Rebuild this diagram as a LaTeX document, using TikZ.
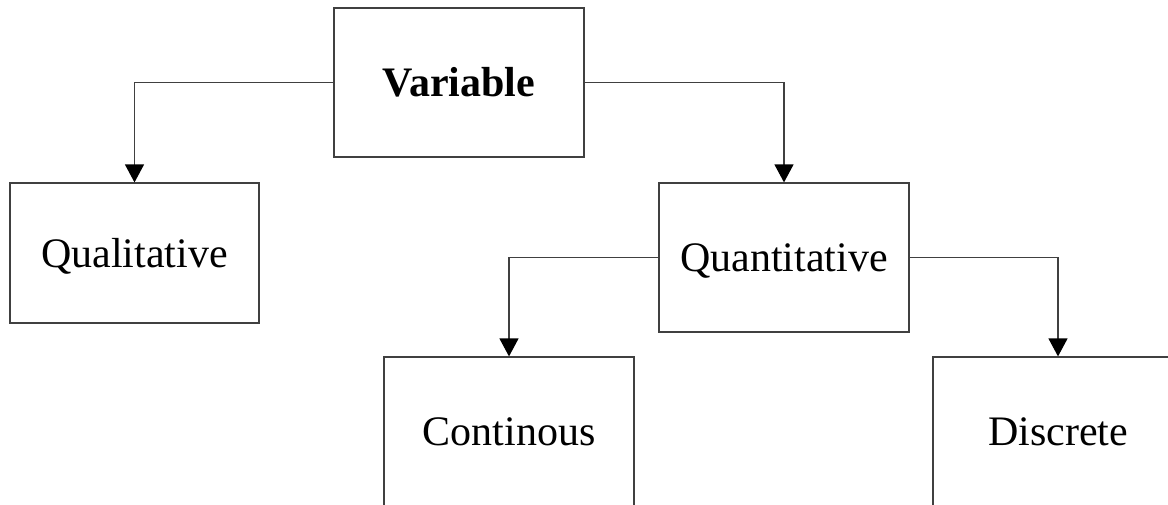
\documentclass[tikz,border=0pt]{standalone}
\usepackage{fontspec}
\setmainfont{Liberation Serif}
\usetikzlibrary{arrows.meta}
\begin{document}
\begin{tikzpicture}[x=1pt,y=-1pt,
  box/.style={draw=black!75,line width=1.2pt,fill=white,inner sep=0pt,
    font=\fontsize{42}{48}\selectfont,text height=28.5pt,text depth=0pt},
  lowbox/.style={box,minimum width=250pt,minimum height=154pt,text depth=6pt},
  conn/.style={draw=black!75,line width=1.2pt,-{Triangle[width=19pt,length=18pt,fill=black,color=black]}}]
\useasboundingbox (0,0) rectangle (1168,504);
\node[box,minimum width=250pt,minimum height=149pt,font=\fontsize{42}{48}\selectfont\bfseries] (var) at (459,82.5) {Variable};
\node[box,minimum width=249pt,minimum height=140pt] (qual) at (134.5,253) {Qualitative};
\node[box,minimum width=250pt,minimum height=149pt] (quan) at (784,257.5) {Quantitative};
\node[lowbox] (cont) at (509,434) {Continous};
\node[lowbox] (disc) at (1058,434) {Discrete};
\draw[conn] (var.west) -| (qual.north);
\draw[conn] (var.east) -| (quan.north);
\draw[conn] (quan.west) -| (cont.north);
\draw[conn] (quan.east) -| (disc.north);
\end{tikzpicture}
\end{document}
